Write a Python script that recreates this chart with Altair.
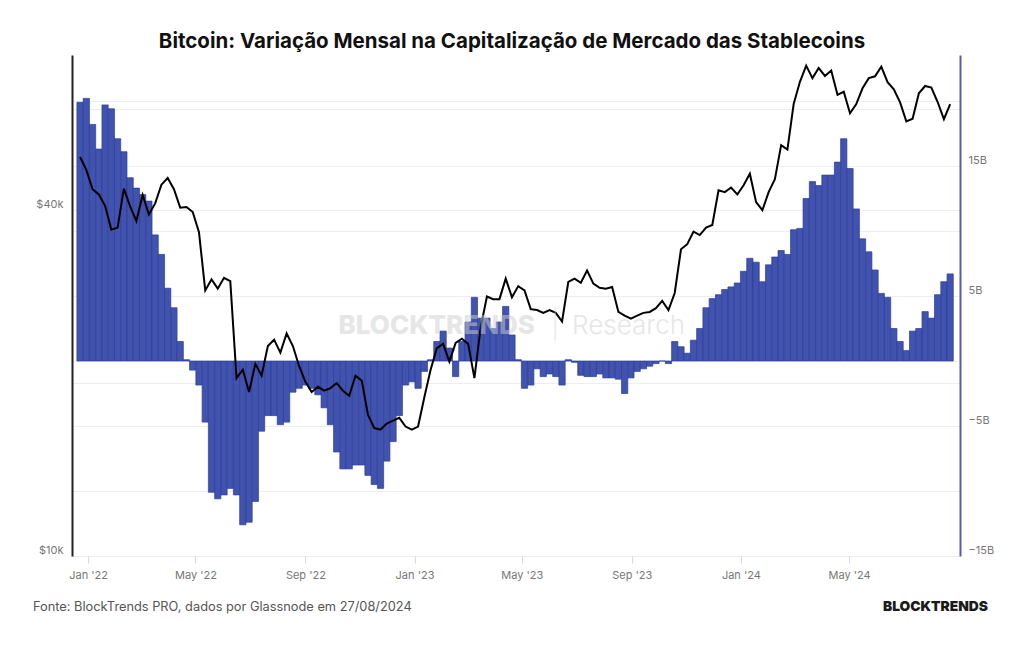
import altair as alt
import pandas as pd

# Weekly samples, first week starting 2021-12-23
week_start = "2021-12-23"

# Bitcoin price (USD)
btc_price = [
    49500, 47000, 43500, 42600, 40700, 37000, 37300, 43600, 40600, 38300,
    42500, 39300, 41100, 44300, 45500, 43500, 40400, 40500, 39700, 36600,
    29000, 30300, 29200, 30500, 30100, 20400, 21100, 19300, 21600, 20600,
    23200, 23800, 22600, 24400, 23200, 21400, 20100, 19300, 19700, 19400,
    19600, 20000, 19400, 19000, 20600, 20200, 17600, 16700, 16600, 17000,
    17200, 17400, 16800, 16600, 16800, 18900, 21100, 23000, 23400, 21800,
    23500, 23900, 23400, 20400, 25000, 28300, 28000, 28000, 30400, 28200,
    29500, 29000, 26900, 26800, 26500, 26800, 26500, 25600, 30000, 30400,
    29900, 31400, 29800, 29300, 29200, 29400, 26600, 26200, 25900, 26200,
    26500, 26600, 27000, 27800, 26800, 28700, 34200, 34900, 36700, 36200,
    37300, 37700, 43300, 43000, 43800, 42600, 44200, 46300, 41300, 40000,
    43000, 45300, 51900, 51000, 61200, 66900, 71400, 67900, 70700, 68500,
    70000, 63500, 64300, 59000, 61200, 65200, 67900, 68400, 71100, 66800,
    64900, 61600, 57100, 57700, 63900, 65800, 65400, 61700, 57600, 61200,
]

# Monthly change in stablecoin market cap (USD billions)
stable_change = [
    19.9, 20.2, 18.2, 16.3, 19.7, 19.4, 17.1, 16.1, 14.1, 13.3,
    12.8, 12.3, 9.7, 8.2, 5.6, 4.1, 1.5, 0.1, -0.7, -1.85,
    -4.7, -10.1, -10.6, -10.3, -9.8, -10.3, -12.6, -12.4, -10.8, -5.4,
    -4.2, -4.2, -4.9, -4.7, -2.4, -2.1, -1.85, -2.1, -2.6, -3.6,
    -4.9, -7.0, -8.3, -8.3, -8.0, -8.0, -8.8, -9.5, -9.8, -7.7,
    -6.2, -4.2, -1.85, -1.6, -2.1, -0.8, 0.1, 1.5, 2.3, 1.0,
    -1.2, 1.5, 3.0, 4.9, 3.3, 3.3, 2.5, 3.0, 4.2, 2.0,
    0.1, -2.1, -1.85, -0.6, -1.2, -1.0, -1.2, -1.85, 0.1, -0.1,
    -1.1, -1.2, -1.2, -1.0, -1.3, -1.3, -1.4, -2.5, -1.3, -0.8,
    -0.6, -0.4, -0.2, 0.0, -0.2, 1.5, 1.1, 0.6, 1.6, 2.5,
    4.1, 4.8, 5.1, 5.5, 5.7, 6.0, 6.9, 7.9, 7.6, 6.1,
    7.4, 8.0, 8.5, 8.2, 10.1, 10.2, 12.5, 13.8, 13.5, 14.3,
    14.3, 15.3, 17.1, 14.8, 11.7, 9.4, 8.4, 7.0, 5.2, 4.9,
    2.5, 1.5, 0.8, 2.3, 2.5, 3.8, 3.3, 5.1, 6.1, 6.7,
]

title_text = "Bitcoin: Variação Mensal na Capitalização de Mercado das Stablecoins"
source_text = "Fonte: BlockTrends PRO, dados por Glassnode em 27/08/2024"
brand_text = "BLOCKTRENDS"

dates = pd.date_range(week_start, periods=len(btc_price), freq="7D")
df = pd.DataFrame({
    "date": dates,
    "start": dates - pd.Timedelta(hours=84),
    "end": dates + pd.Timedelta(hours=84),
    "price": btc_price,
    "change": stable_change,
})

x_domain = [alt.DateTime(year=2021, month=12, date=14),
            alt.DateTime(year=2024, month=9, date=2)]
x_ticks = [alt.DateTime(year=y, month=m, date=1)
           for y in (2022, 2023, 2024) for m in (1, 5, 9)
           if not (y == 2024 and m == 9)]

FONT = "Inter"
LABEL = "#777777"
GRID = "#eeeeee"

x_axis = alt.Axis(values=x_ticks, format="%b '%y", title=None, grid=False,
                  domain=False, ticks=True, tickColor="#d8d8d8", tickSize=7,
                  labelColor=LABEL, labelFont=FONT, labelFontSize=11,
                  labelPadding=6)

bars = alt.Chart(df).mark_bar(
    fill="#4253ad", stroke="#2a3c9e", strokeWidth=0.7
).encode(
    x=alt.X("start:T", scale=alt.Scale(domain=x_domain), axis=x_axis),
    x2="end:T",
    y=alt.Y("change:Q",
            scale=alt.Scale(domain=[-15, 23.54], nice=False, zero=False),
            axis=alt.Axis(orient="right", values=list(range(-15, 21, 5)),
                          labelExpr="datum.value % 10 != 0 ? format(datum.value, 'd') + 'B' : ''",
                          title=None, grid=True, gridColor=GRID, ticks=False,
                          domainColor="#5b5ba8", domainWidth=2,
                          labelColor=LABEL, labelFont=FONT, labelFontSize=11,
                          labelPadding=8, labelOffset=-6)),
    y2=alt.datum(0),
)

line = alt.Chart(df).mark_line(color="#000000", strokeWidth=2).encode(
    x=alt.X("date:T", scale=alt.Scale(domain=x_domain), axis=x_axis),
    y=alt.Y("price:Q",
            scale=alt.Scale(type="log", domain=[10000, 74500], nice=False),
            axis=alt.Axis(orient="left", values=[10000, 20000, 40000, 60000],
                          labelExpr="datum.value == 10000 ? '$10k' : datum.value == 40000 ? '$40k' : ''",
                          title=None, grid=True, gridColor=GRID, ticks=False,
                          domainColor="#222222", domainWidth=2,
                          labelColor=LABEL, labelFont=FONT, labelFontSize=11,
                          labelPadding=9, labelOffset=-6)),
)

def label(text, x, y, **kw):
    return alt.Chart(pd.DataFrame({"t": [text]})).mark_text(**kw).encode(
        x=alt.value(x), y=alt.value(y), text="t:N")

mark_brand = label("BLOCKTRENDS", 463, 271, align="right", baseline="middle",
                   font=FONT, fontSize=26, fontWeight=800, color="#cfcfcf",
                   opacity=0.5)
mark_sep = label("|", 483, 271, align="center", baseline="middle",
                 font=FONT, fontSize=28, fontWeight=200, color="#cfcfcf",
                 opacity=0.5)
mark_research = label("Research", 500, 271, align="left", baseline="middle",
                      font=FONT, fontSize=26, fontWeight=300, color="#cfcfcf",
                      opacity=0.5)
source = label(source_text, -39, 552, align="left", baseline="middle",
               font=FONT, fontSize=12.8, color="#555555")
brand = label(brand_text, 916, 552, align="right", baseline="middle",
              font=FONT, fontSize=13.8, fontWeight=900, color="#1a1a1a")

chart = alt.layer(
    bars, line, mark_brand, mark_sep, mark_research, source, brand
).resolve_scale(
    y="independent"
).properties(
    width=888,
    height=501,
    padding={"left": 72, "top": 55, "right": 64, "bottom": 89},
    autosize="none",
    title=alt.TitleParams(title_text, font=FONT, fontSize=20.5, fontWeight=700,
                          color="#111111", anchor="middle", offset=3, dx=-4),
    background="white",
).configure_view(stroke=None)

chart.save("out.html", embed_options={"renderer": "svg", "actions": False})
